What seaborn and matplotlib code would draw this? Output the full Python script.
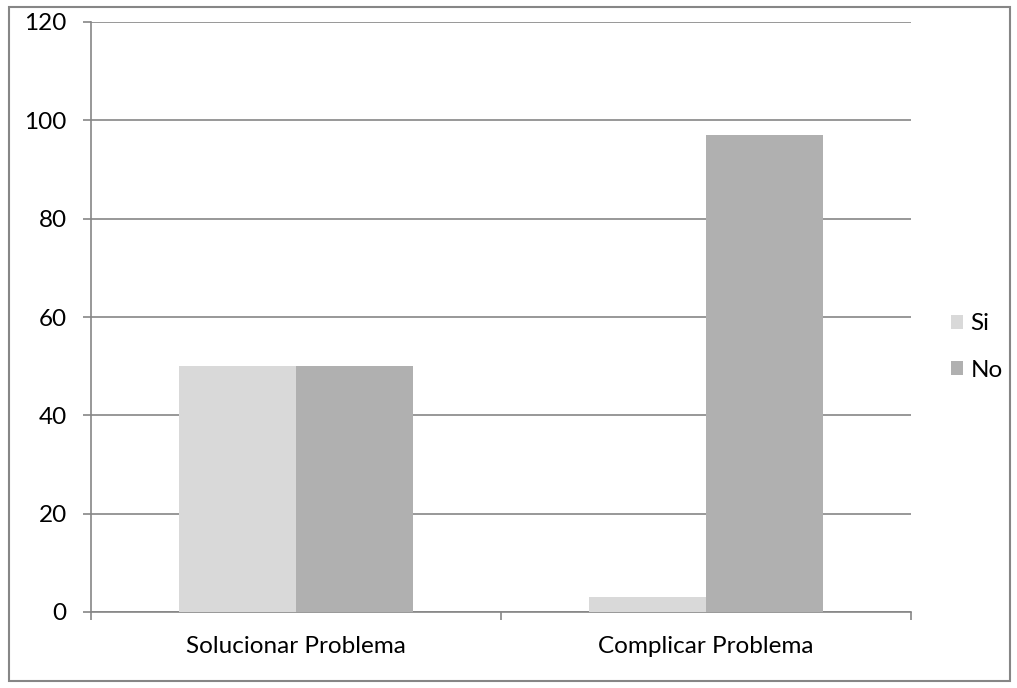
import pandas as pd
import matplotlib
matplotlib.use("Agg")
import matplotlib.pyplot as plt
import seaborn as sns
from matplotlib.patches import Rectangle
from matplotlib.ticker import FixedLocator

# ====================== DATA ======================
categories = ["Solucionar Problema", "Complicar Problema"]
series_names = ["Si", "No"]
si_values = [50, 3]
no_values = [50, 97]
y_ticks = [0, 20, 40, 60, 80, 100, 120]

colors = {"Si": "#D9D9D9", "No": "#B0B0B0"}

df = pd.DataFrame({
    "categoria": categories * 2,
    "serie": [series_names[0]] * len(categories) + [series_names[1]] * len(categories),
    "valor": si_values + no_values,
})

sns.set_style("white")
plt.rcParams["font.family"] = ["Lato", "DejaVu Sans"]
plt.rcParams["text.color"] = "black"

fig = plt.figure(figsize=(10.17, 6.88), dpi=100)
ax = fig.add_axes([91 / 1017, 1 - 612 / 688, 820 / 1017, 590 / 688])

sns.barplot(data=df, x="categoria", y="valor", hue="serie", order=categories,
            hue_order=series_names, palette=colors, width=0.573, gap=0,
            saturation=1, edgecolor="none", linewidth=0, ax=ax, zorder=3)

axis_color = "#868686"
ax.set_ylim(0, 120)
ax.set_xlim(-0.5, 1.5)
ax.set_yticks(y_ticks)
ax.yaxis.grid(True, color=axis_color, linewidth=1.2, zorder=0)
ax.set_axisbelow(True)
ax.set_xlabel("")
ax.set_ylabel("")

for side in ["top", "right"]:
    ax.spines[side].set_visible(False)
for side in ["left", "bottom"]:
    ax.spines[side].set_color(axis_color)
    ax.spines[side].set_linewidth(1.2)

fs = 17.5
ax.tick_params(axis="y", left=True, length=6, width=1.2, color=axis_color,
               labelsize=fs, labelcolor="black", pad=11.5)
ax.tick_params(axis="x", which="major", bottom=True, length=0, labelsize=fs,
               labelcolor="black", pad=17)
ax.xaxis.set_minor_locator(FixedLocator([-0.5, 0.5, 1.5]))
ax.tick_params(axis="x", which="minor", bottom=True, length=6, width=1.2, color=axis_color)

handles, labels = ax.get_legend_handles_labels()
leg = ax.legend(handles, labels, loc="center left", bbox_to_anchor=(951 / 1017, 1 - 347 / 688),
                bbox_transform=fig.transFigure, frameon=False, fontsize=fs,
                borderpad=0, borderaxespad=0,
                handlelength=0.5, handleheight=0.5, handletextpad=0.3, labelspacing=1.05)
for t in leg.get_texts():
    t.set_color("black")

fig.patches.append(Rectangle((9 / 1017, 1 - 681 / 688), 1001 / 1017, 674 / 688,
                             transform=fig.transFigure, fill=False,
                             edgecolor=axis_color, linewidth=1.5))

plt.savefig("out.png", dpi=100)
plt.close()
